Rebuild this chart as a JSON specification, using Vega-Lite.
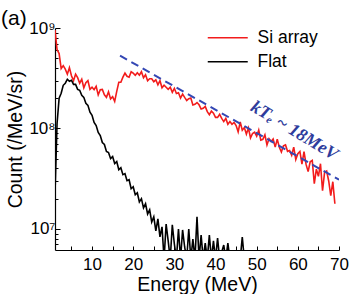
{
  "$schema": "https://vega.github.io/schema/vega-lite/v6.json",
  "width": 284,
  "height": 222,
  "autosize": {"type": "none"},
  "padding": {"left": 55, "top": 28, "right": 11, "bottom": 44},
  "background": "white",
  "title": {"text": "(a)", "anchor": "start", "frame": "group", "fontSize": 21, "font": "Liberation Sans", "fontWeight": "normal", "dx": -54, "offset": 0, "dy": 10, "color": "black"},
  "config": {"view": {"stroke": null}},
  "resolve": {"axis": {"x": "independent"}},
  "datasets": {
    "spec": [
      {"s":"Si array","E":1,"c":9.55e8},{"s":"Si array","E":1.5,"c":6.10e8},{"s":"Si array","E":2,"c":5.56e8},{"s":"Si array","E":2.5,"c":3.94e8},{"s":"Si array","E":3,"c":4.22e8},{"s":"Si array","E":3.5,"c":3.89e8},{"s":"Si array","E":4,"c":3.47e8},{"s":"Si array","E":4.5,"c":4.03e8},{"s":"Si array","E":5,"c":3.35e8},{"s":"Si array","E":5.5,"c":2.99e8},{"s":"Si array","E":6,"c":3.47e8},{"s":"Si array","E":6.5,"c":3.20e8},{"s":"Si array","E":7,"c":2.82e8},{"s":"Si array","E":7.5,"c":3.09e8},{"s":"Si array","E":8,"c":2.54e8},{"s":"Si array","E":8.5,"c":2.85e8},{"s":"Si array","E":9,"c":2.99e8},{"s":"Si array","E":9.5,"c":2.45e8},{"s":"Si array","E":10,"c":2.57e8},{"s":"Si array","E":10.5,"c":2.43e8},{"s":"Si array","E":11,"c":2.63e8},{"s":"Si array","E":11.5,"c":2.16e8},{"s":"Si array","E":12,"c":2.43e8},{"s":"Si array","E":12.5,"c":2.45e8},{"s":"Si array","E":13,"c":2.16e8},{"s":"Si array","E":13.5,"c":2.04e8},{"s":"Si array","E":14,"c":2.32e8},{"s":"Si array","E":14.5,"c":1.97e8},{"s":"Si array","E":15,"c":2.07e8},{"s":"Si array","E":15.5,"c":1.86e8},{"s":"Si array","E":16,"c":2.34e8},{"s":"Si array","E":16.5,"c":2.88e8},{"s":"Si array","E":17,"c":2.88e8},{"s":"Si array","E":17.5,"c":3.24e8},{"s":"Si array","E":18,"c":3.55e8},{"s":"Si array","E":18.5,"c":3.31e8},{"s":"Si array","E":19,"c":3.24e8},{"s":"Si array","E":19.5,"c":3.67e8},{"s":"Si array","E":20,"c":3.55e8},{"s":"Si array","E":20.5,"c":3.39e8},{"s":"Si array","E":21,"c":3.59e8},{"s":"Si array","E":21.5,"c":3.39e8},{"s":"Si array","E":22,"c":3.67e8},{"s":"Si array","E":22.5,"c":3.20e8},{"s":"Si array","E":23,"c":3.43e8},{"s":"Si array","E":23.5,"c":2.99e8},{"s":"Si array","E":24,"c":3.13e8},{"s":"Si array","E":24.5,"c":3.13e8},{"s":"Si array","E":25,"c":2.92e8},{"s":"Si array","E":25.5,"c":3.05e8},{"s":"Si array","E":26,"c":2.72e8},{"s":"Si array","E":26.5,"c":2.99e8},{"s":"Si array","E":27,"c":2.54e8},{"s":"Si array","E":27.5,"c":2.69e8},{"s":"Si array","E":28,"c":2.57e8},{"s":"Si array","E":28.5,"c":2.45e8},{"s":"Si array","E":29,"c":2.57e8},{"s":"Si array","E":29.5,"c":2.29e8},{"s":"Si array","E":30,"c":2.51e8},{"s":"Si array","E":30.5,"c":2.23e8},{"s":"Si array","E":31,"c":2.27e8},{"s":"Si array","E":31.5,"c":2.01e8},{"s":"Si array","E":32,"c":2.20e8},{"s":"Si array","E":32.5,"c":2.04e8},{"s":"Si array","E":33,"c":1.90e8},{"s":"Si array","E":33.5,"c":1.98e8},{"s":"Si array","E":34,"c":2.01e8},{"s":"Si array","E":34.5,"c":1.71e8},{"s":"Si array","E":35,"c":1.74e8},{"s":"Si array","E":35.5,"c":1.81e8},{"s":"Si array","E":36,"c":1.72e8},{"s":"Si array","E":36.5,"c":1.56e8},{"s":"Si array","E":37,"c":1.59e8},{"s":"Si array","E":37.5,"c":1.66e8},{"s":"Si array","E":38,"c":1.47e8},{"s":"Si array","E":38.5,"c":1.37e8},{"s":"Si array","E":39,"c":1.49e8},{"s":"Si array","E":39.5,"c":1.42e8},{"s":"Si array","E":40,"c":1.29e8},{"s":"Si array","E":40.5,"c":1.29e8},{"s":"Si array","E":41,"c":1.38e8},{"s":"Si array","E":41.5,"c":1.26e8},{"s":"Si array","E":42,"c":1.17e8},{"s":"Si array","E":42.5,"c":1.26e8},{"s":"Si array","E":43,"c":1.10e8},{"s":"Si array","E":43.5,"c":1.17e8},{"s":"Si array","E":44,"c":1.10e8},{"s":"Si array","E":44.5,"c":1.15e8},{"s":"Si array","E":45,"c":1.07e8},{"s":"Si array","E":45.5,"c":9.25e7},{"s":"Si array","E":46,"c":1.16e8},{"s":"Si array","E":46.5,"c":9.59e7},{"s":"Si array","E":47,"c":1.02e8},{"s":"Si array","E":47.5,"c":8.79e7},{"s":"Si array","E":48,"c":1.01e8},{"s":"Si array","E":48.5,"c":8.05e7},{"s":"Si array","E":49,"c":8.91e7},{"s":"Si array","E":49.5,"c":9.18e7},{"s":"Si array","E":50,"c":8.36e7},{"s":"Si array","E":50.5,"c":9.64e7},{"s":"Si array","E":51,"c":7.66e7},{"s":"Si array","E":51.5,"c":7.80e7},{"s":"Si array","E":52,"c":8.63e7},{"s":"Si array","E":52.5,"c":6.86e7},{"s":"Si array","E":53,"c":7.91e7},{"s":"Si array","E":53.5,"c":7.41e7},{"s":"Si array","E":54,"c":7.87e7},{"s":"Si array","E":54.5,"c":6.52e7},{"s":"Si array","E":55,"c":7.83e7},{"s":"Si array","E":55.5,"c":6.49e7},{"s":"Si array","E":56,"c":5.83e7},{"s":"Si array","E":56.5,"c":6.73e7},{"s":"Si array","E":57,"c":6.86e7},{"s":"Si array","E":57.5,"c":5.92e7},{"s":"Si array","E":58,"c":6.03e7},{"s":"Si array","E":58.5,"c":5.42e7},{"s":"Si array","E":59,"c":6.52e7},{"s":"Si array","E":59.5,"c":4.91e7},{"s":"Si array","E":60,"c":5.60e7},{"s":"Si array","E":60.5,"c":5.90e7},{"s":"Si array","E":61,"c":4.41e7},{"s":"Si array","E":61.5,"c":5.87e7},{"s":"Si array","E":62,"c":4.39e7},{"s":"Si array","E":62.5,"c":3.72e7},{"s":"Si array","E":63,"c":4.66e7},{"s":"Si array","E":63.5,"c":4.80e7},{"s":"Si array","E":64,"c":2.82e7},{"s":"Si array","E":64.5,"c":3.94e7},{"s":"Si array","E":65,"c":3.34e7},{"s":"Si array","E":65.5,"c":4.46e7},{"s":"Si array","E":66,"c":2.40e7},{"s":"Si array","E":66.5,"c":3.66e7},{"s":"Si array","E":67,"c":3.77e7},{"s":"Si array","E":67.5,"c":3.00e7},{"s":"Si array","E":68,"c":2.14e7},{"s":"Si array","E":68.5,"c":2.95e7},{"s":"Si array","E":69,"c":1.78e7},
      {"s":"Flat","E":1,"c":2.24e7},{"s":"Flat","E":1.5,"c":1.12e8},{"s":"Flat","E":2,"c":2.00e8},{"s":"Flat","E":2.5,"c":2.24e8},{"s":"Flat","E":3,"c":2.69e8},{"s":"Flat","E":3.5,"c":2.82e8},{"s":"Flat","E":4,"c":3.09e8},{"s":"Flat","E":4.5,"c":2.95e8},{"s":"Flat","E":5,"c":3.02e8},{"s":"Flat","E":5.5,"c":2.75e8},{"s":"Flat","E":6,"c":2.75e8},{"s":"Flat","E":6.5,"c":2.45e8},{"s":"Flat","E":7,"c":2.40e8},{"s":"Flat","E":7.5,"c":2.14e8},{"s":"Flat","E":8,"c":2.04e8},{"s":"Flat","E":8.5,"c":1.78e8},{"s":"Flat","E":9,"c":1.70e8},{"s":"Flat","E":9.5,"c":1.45e8},{"s":"Flat","E":10,"c":1.35e8},{"s":"Flat","E":10.5,"c":1.15e8},{"s":"Flat","E":11,"c":1.07e8},{"s":"Flat","E":11.5,"c":9.12e7},{"s":"Flat","E":12,"c":8.51e7},{"s":"Flat","E":12.5,"c":7.24e7},{"s":"Flat","E":13,"c":6.92e7},{"s":"Flat","E":13.5,"c":5.89e7},{"s":"Flat","E":14,"c":5.75e7},{"s":"Flat","E":14.5,"c":5.01e7},{"s":"Flat","E":15,"c":5.25e7},{"s":"Flat","E":15.5,"c":4.47e7},{"s":"Flat","E":16,"c":4.68e7},{"s":"Flat","E":16.5,"c":3.89e7},{"s":"Flat","E":17,"c":4.07e7},{"s":"Flat","E":17.5,"c":3.47e7},{"s":"Flat","E":18,"c":3.55e7},{"s":"Flat","E":18.5,"c":3.02e7},{"s":"Flat","E":19,"c":3.09e7},{"s":"Flat","E":19.5,"c":2.51e7},{"s":"Flat","E":20,"c":2.63e7},{"s":"Flat","E":20.5,"c":2.19e7},{"s":"Flat","E":21,"c":2.29e7},{"s":"Flat","E":21.5,"c":1.86e7},{"s":"Flat","E":22,"c":2.00e7},{"s":"Flat","E":22.5,"c":1.62e7},{"s":"Flat","E":23,"c":1.78e7},{"s":"Flat","E":23.5,"c":1.41e7},{"s":"Flat","E":24,"c":1.55e7},{"s":"Flat","E":24.5,"c":1.17e7},{"s":"Flat","E":25,"c":1.32e7},{"s":"Flat","E":25.5,"c":9.55e6},{"s":"Flat","E":26,"c":1.26e7},{"s":"Flat","E":26.5,"c":8.32e6},{"s":"Flat","E":27,"c":1.05e7},{"s":"Flat","E":27.5,"c":5.0e6},{"s":"Flat","E":28,"c":1.12e7},{"s":"Flat","E":28.5,"c":7.59e6},{"s":"Flat","E":29,"c":5.0e6},{"s":"Flat","E":29.5,"c":1.10e7},{"s":"Flat","E":30,"c":7.08e6},{"s":"Flat","E":30.5,"c":5.0e6},{"s":"Flat","E":31,"c":1.0e7},{"s":"Flat","E":31.5,"c":5.0e6},{"s":"Flat","E":32,"c":9.77e6},{"s":"Flat","E":32.5,"c":6.61e6},{"s":"Flat","E":33,"c":5.0e6},{"s":"Flat","E":33.5,"c":1.0e7},{"s":"Flat","E":34,"c":5.0e6},{"s":"Flat","E":34.5,"c":7.94e6},{"s":"Flat","E":35,"c":5.0e6},{"s":"Flat","E":35.5,"c":1.32e7},{"s":"Flat","E":36,"c":5.0e6},{"s":"Flat","E":36.5,"c":8.71e6},{"s":"Flat","E":37,"c":5.0e6},{"s":"Flat","E":37.5,"c":7.24e6},{"s":"Flat","E":38,"c":5.0e6},{"s":"Flat","E":38.5,"c":8.71e6},{"s":"Flat","E":39,"c":5.0e6},{"s":"Flat","E":39.5,"c":7.59e6},{"s":"Flat","E":40,"c":5.0e6},{"s":"Flat","E":40.5,"c":8.13e6},{"s":"Flat","E":41,"c":5.0e6},{"s":"Flat","E":42,"c":6.92e6},{"s":"Flat","E":42.5,"c":5.0e6},{"s":"Flat","E":43,"c":7.24e6},{"s":"Flat","E":43.5,"c":5.0e6},{"s":"Flat","E":46,"c":5.0e6},{"s":"Flat","E":46.5,"c":8.32e6},{"s":"Flat","E":47,"c":5.0e6}
    ],
    "fit": [{"E": 16.8, "c": 5.31e8}, {"E": 70, "c": 3.09e7}],
    "note": [{"E": 59.1, "c": 9.44e7, "t": "kTₑ ~ 18MeV"}]
  },
  "layer": [
    {
      "data": {"name": "spec"},
      "mark": {"type": "line", "strokeWidth": 1.6, "clip": true, "interpolate": "linear"},
      "encoding": {
        "x": {"field": "E", "type": "quantitative", "scale": {"domain": [1, 70], "nice": false, "zero": false},
          "axis": {"orient": "bottom", "title": "Energy (MeV)", "values": [10,20,30,40,50,60,70], "format": "d",
            "tickSize": 4, "ticks": true,
            "grid": false, "domainColor": "black", "tickColor": "white", "tickOpacity": 0, "domainWidth": 1.2, "tickWidth": 1,
            "labelFont": "Liberation Sans", "labelFontSize": 17, "labelColor": "black", "labelPadding": 2, "labelOverlap": false, "labelFlush": false,
            "titleFont": "Liberation Sans", "titleFontSize": 19.5, "titleFontWeight": "normal", "titleColor": "black", "titlePadding": 3}},
        "y": {"field": "c", "type": "quantitative", "scale": {"type": "log", "domain": [6.17e6, 1e9], "nice": false, "zero": false},
          "axis": {"title": "Count (/MeV/sr)", "values": [7e6,8e6,9e6,1e7,2e7,3e7,4e7,5e7,6e7,7e7,8e7,9e7,1e8,2e8,3e8,4e8,5e8,6e8,7e8,8e8,9e8,1e9],
            "labelExpr": "datum.value == 1e7 ? '10⁷' : datum.value == 1e8 ? '10⁸' : datum.value == 1e9 ? '10⁹' : ''",
            "tickSize": {"condition": {"test": "datum.value == 1e7 || datum.value == 1e8 || datum.value == 1e9", "value": -5}, "value": -3},
            "grid": false, "domainColor": "black", "tickColor": "black", "domainWidth": 1.2, "tickWidth": 1,
            "labelFont": "Liberation Sans", "labelFontSize": 17, "labelColor": "black", "labelPadding": 5, "labelOverlap": false,
            "titleFont": "Liberation Sans", "titleFontSize": 19.5, "titleFontWeight": "normal", "titleColor": "black", "titlePadding": 3}},
        "color": {"field": "s", "type": "nominal", "scale": {"domain": ["Si array", "Flat"], "range": ["#f21c1c", "#000000"]},
          "legend": {"title": null, "orient": "none", "legendX": 164, "legendY": 1, "symbolType": "M-4,0H4", "symbolSize": 100, "symbolStrokeWidth": 1.5,
            "labelFont": "Liberation Sans", "labelFontSize": 17.5, "labelColor": "black", "labelOffset": 21, "rowPadding": 5}}
      }
    },
    {
      "data": {"name": "fit"},
      "mark": {"type": "line", "color": "#3447b4", "strokeWidth": 2, "strokeDash": [8, 5], "clip": true},
      "encoding": {
        "x": {"field": "E", "type": "quantitative", "axis": {"orient": "bottom", "values": [5,10,15,20,25,30,35,40,45,50,55,60,65,70], "labels": false, "title": null, "domain": false, "grid": false, "tickSize": -4, "tickColor": "black", "tickWidth": 1}},
        "y": {"field": "c", "type": "quantitative"}
      }
    },
    {
      "data": {"name": "note"},
      "mark": {"type": "text", "angle": 31, "font": "Liberation Serif", "fontSize": 18, "fontStyle": "italic", "fontWeight": "bold", "color": "#2e3c9c", "align": "center", "baseline": "middle"},
      "encoding": {"x": {"field": "E", "type": "quantitative", "axis": null}, "y": {"field": "c", "type": "quantitative"}, "text": {"field": "t"}}
    }
  ]
}
